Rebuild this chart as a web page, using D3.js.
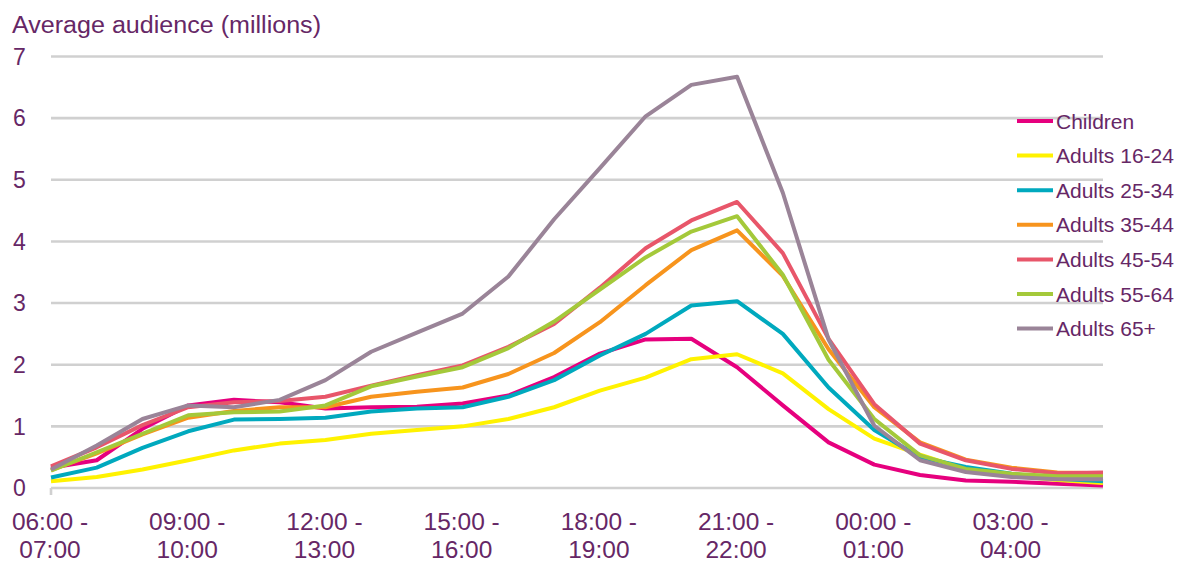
<!DOCTYPE html>
<html><head><meta charset="utf-8">
<script src="https://cdn.jsdelivr.net/npm/d3@7"></script>
<style>
html,body{margin:0;padding:0;background:#fff;}
svg{display:block;font-family:"Liberation Sans",Arial,sans-serif;}
</style></head>
<body><svg id="chart" width="1180" height="564"></svg>
<script>
const categories = ["06:00 - 07:00","07:00 - 08:00","08:00 - 09:00","09:00 - 10:00","10:00 - 11:00","11:00 - 12:00",
  "12:00 - 13:00","13:00 - 14:00","14:00 - 15:00","15:00 - 16:00","16:00 - 17:00","17:00 - 18:00",
  "18:00 - 19:00","19:00 - 20:00","20:00 - 21:00","21:00 - 22:00","22:00 - 23:00","23:00 - 00:00",
  "00:00 - 01:00","01:00 - 02:00","02:00 - 03:00","03:00 - 04:00","04:00 - 05:00","05:00 - 06:00"];
const seriesNames = ["Children","Adults 16-24","Adults 25-34","Adults 35-44","Adults 45-54","Adults 55-64","Adults 65+"];
const children   = [0.33,0.45,0.96,1.34,1.43,1.39,1.29,1.31,1.32,1.37,1.50,1.80,2.18,2.41,2.42,1.96,1.34,0.74,0.38,0.21,0.12,0.10,0.07,0.04];
const adults1624 = [0.11,0.18,0.30,0.45,0.61,0.72,0.78,0.88,0.94,1.00,1.12,1.31,1.58,1.79,2.09,2.17,1.86,1.28,0.80,0.54,0.30,0.20,0.13,0.08];
const adults2534 = [0.17,0.33,0.65,0.92,1.11,1.12,1.14,1.24,1.29,1.31,1.48,1.75,2.15,2.50,2.96,3.03,2.50,1.63,0.94,0.50,0.34,0.23,0.15,0.11];
const adults3544 = [0.29,0.56,0.87,1.14,1.25,1.31,1.31,1.48,1.56,1.63,1.85,2.19,2.69,3.29,3.86,4.18,3.44,2.25,1.31,0.74,0.46,0.33,0.25,0.24];
const adults4554 = [0.35,0.66,1.02,1.31,1.39,1.41,1.48,1.66,1.83,1.99,2.29,2.66,3.25,3.89,4.34,4.64,3.81,2.42,1.36,0.72,0.45,0.31,0.24,0.25];
const adults5564 = [0.28,0.58,0.88,1.18,1.23,1.24,1.34,1.65,1.81,1.96,2.27,2.70,3.22,3.74,4.16,4.41,3.46,2.08,1.12,0.53,0.31,0.23,0.19,0.19];
const adults65   = [0.30,0.69,1.12,1.34,1.31,1.43,1.75,2.21,2.52,2.83,3.43,4.36,5.19,6.03,6.54,6.67,4.79,2.41,1.01,0.45,0.26,0.18,0.14,0.14];
const yTicks = [0,1,2,3,4,5,6,7];
const colors = ["#E6007E","#FFF200","#00A9BE","#F7941D","#E8566A","#A4C93A","#9A8498"];

const seriesValues = [children,adults1624,adults2534,adults3544,adults4554,adults5564,adults65];
const series = seriesNames.map((n,i)=>({name:n,values:seriesValues[i],color:colors[i]}));

const textColor = "#662766";
const svg = d3.select("#chart");
const x = d3.scalePoint().domain(categories).range([51,1103]);
const y = d3.scaleLinear().domain([0,7]).range([488,56.5]);

// title
svg.append("text").attr("x",12).attr("y",33).attr("fill",textColor)
  .attr("font-size",23).attr("textLength",309).attr("lengthAdjust","spacingAndGlyphs")
  .text("Average audience (millions)");

// gridlines
svg.append("g").selectAll("line").data(yTicks).join("line")
  .attr("x1",51).attr("x2",1103).attr("y1",d=>y(d)).attr("y2",d=>y(d))
  .attr("stroke","#d0d0d0").attr("stroke-width",2.6);
svg.append("line").attr("x1",51).attr("x2",51).attr("y1",y(0)).attr("y2",y(0)+7)
  .attr("stroke","#d0d0d0").attr("stroke-width",2.6);

// y labels
svg.append("g").selectAll("text").data(yTicks).join("text")
  .attr("x",13).attr("y",d=>y(d)).attr("dy","0.36em").attr("fill",textColor)
  .attr("font-size",23).text(d=>d);

// x labels
const xl = svg.append("g").selectAll("g").data(categories.filter((c,i)=>i%3===0)).join("g")
  .attr("transform",d=>`translate(${x(d)-1},0) scale(1.065,1)`);
xl.append("text").attr("fill",textColor).attr("font-size",23).attr("text-anchor","middle")
  .attr("x",0).attr("y",530).text(d=>d.split(" - ")[0]+" -");
xl.append("text").attr("fill",textColor).attr("font-size",23).attr("text-anchor","middle")
  .attr("x",0).attr("y",558).text(d=>d.split(" - ")[1]);

// lines
const line = d3.line().x((d,i)=>x(categories[i])).y(d=>y(d));
svg.append("g").selectAll("path").data(series).join("path")
  .attr("d",d=>line(d.values)).attr("fill","none").attr("stroke",d=>d.color)
  .attr("stroke-width",4).attr("stroke-linejoin","round");

// legend
const lg = svg.append("g").selectAll("g").data(series).join("g")
  .attr("transform",(d,i)=>`translate(1017,${121+i*34.6})`);
lg.append("line").attr("x1",0).attr("x2",36).attr("stroke",d=>d.color).attr("stroke-width",4);
lg.append("text").attr("x",39).attr("dy","0.36em").attr("fill",textColor)
  .attr("font-size",21).text(d=>d.name);
</script></body></html>
